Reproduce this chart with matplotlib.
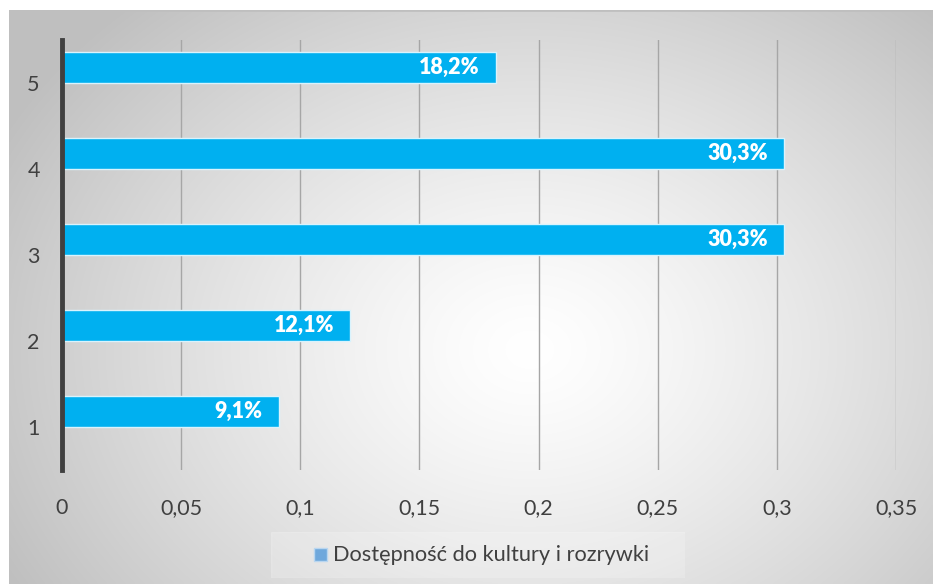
import matplotlib
matplotlib.use('Agg')
from matplotlib import pyplot as plt
from matplotlib.patches import Rectangle
import numpy as np

plt.rcParams['font.family'] = ['Lato', 'DejaVu Sans']

categories = ['1', '2', '3', '4', '5']
shares = [0.091, 0.121, 0.303, 0.303, 0.182]
share_labels = ['9,1%', '12,1%', '30,3%', '30,3%', '18,2%']
xticks = [0, 0.05, 0.1, 0.15, 0.2, 0.25, 0.3, 0.35]
xtick_labels = ['0', '0,05', '0,1', '0,15', '0,2', '0,25', '0,3', '0,35']
series_name = 'Dostępność do kultury i rozrywki'

W, H = 933, 584
fig = plt.figure(figsize=(W / 100, H / 100), dpi=100)

# radial grey-to-white fill behind the chart area
bg = fig.add_axes([9 / W, 0, 1 - 9 / W, 1 - 10 / H], zorder=0)
gx, gy = np.meshgrid(np.linspace(9, W, 400), np.linspace(10, H, 300))
r = np.sqrt(((gx - 530) / 560) ** 2 + ((gy - 350) / 440) ** 2)
shade = 1.0 - 0.23 * np.clip(r, 0, 1.3) ** 1.3
shade = np.clip(shade, 0.75, 1.0)
bg.imshow(np.dstack([shade] * 3), extent=[0, 1, 0, 1], aspect='auto',
          interpolation='bilinear', origin='upper')
bg.axhline(1, color='#bfbfbf', lw=2)
bg.set_xlim(0, 1)
bg.set_ylim(0, 1)
bg.axis('off')

ax = fig.add_axes([62 / W, 1 - 470 / H, (896 - 62) / W, 430 / H], zorder=1)
ax.patch.set_alpha(0)

pos = np.arange(1, len(categories) + 1)
ax.barh(pos, shares, height=0.36, align='edge', color='#00b0f0',
        edgecolor='#d9f3fd', linewidth=1, zorder=3)
for p, v, lab in zip(pos, shares, share_labels):
    ax.text(v - 0.0068, p + 0.18, lab, ha='right', va='center', color='white',
            fontsize=15.5, fontweight='heavy', zorder=4)

ax.set_xlim(0, 0.35)
ax.set_ylim(0.5, 5.5)
ax.set_xticks(xticks)
ax.set_xticklabels(xtick_labels)
ax.set_yticks(pos)
ax.set_yticklabels(categories)
ax.grid(axis='x', color='#a6a6a6', lw=1, zorder=1)
ax.tick_params(length=0, labelsize=15.5, labelcolor='#404040')
ax.tick_params(axis='x', pad=20)
ax.tick_params(axis='y', pad=16)
for s in ['top', 'right', 'bottom']:
    ax.spines[s].set_visible(False)
ax.spines['left'].set_color('#404040')
ax.spines['left'].set_linewidth(3.5)
ax.spines['left'].set_zorder(5)

# legend strip at the bottom
leg = fig.add_axes([271 / W, 1 - 578 / H, 414 / W, 46 / H], zorder=2)
leg.add_patch(Rectangle((0, 0), 1, 1, color='white', alpha=0.2))
leg.add_patch(Rectangle((43 / 414, 17 / 46), 13 / 414, 13 / 46,
                        facecolor='#6fa8dc', edgecolor='#b9d6f0', lw=1))
leg.text(62 / 414, 0.5, series_name, va='center', ha='left',
         fontsize=15.7, color='#404040')
leg.set_xlim(0, 1)
leg.set_ylim(0, 1)
leg.axis('off')

fig.savefig('out.png', dpi=100)
